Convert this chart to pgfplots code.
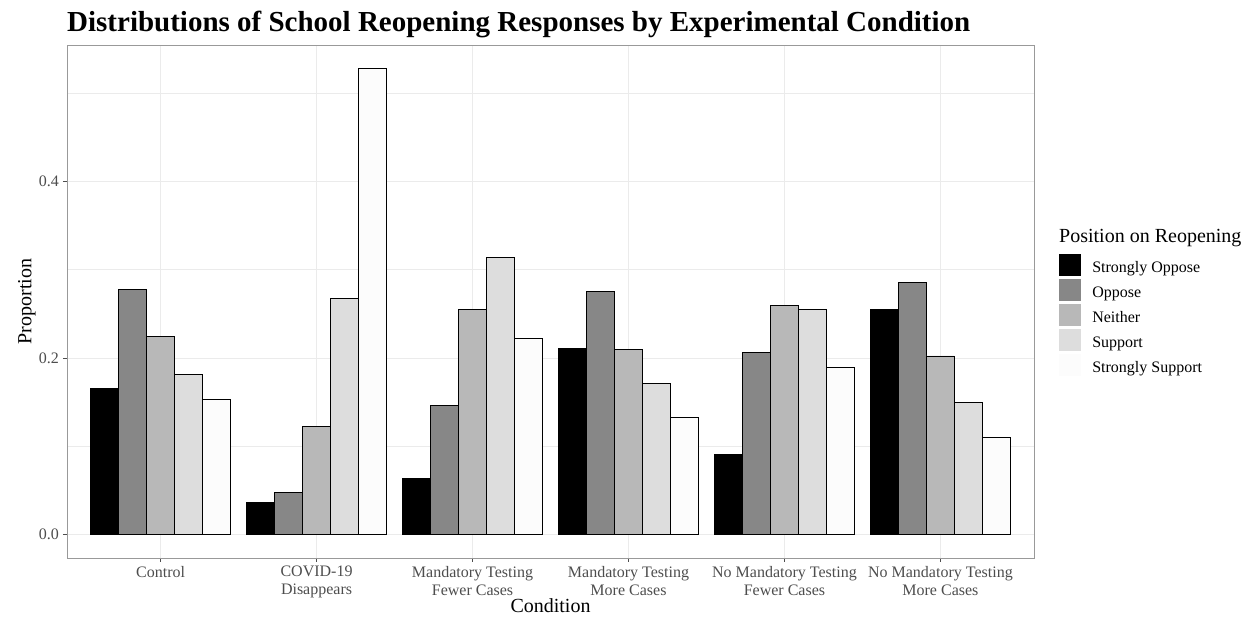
\documentclass[border=0pt]{standalone}
\usepackage{pgfplots}
\pgfplotsset{compat=1.18}
\usepackage{pgfplotstable}
\usepackage{fontspec}
\setmainfont{Liberation Serif}
\definecolor{c1}{HTML}{000000}
\definecolor{c2}{HTML}{878787}
\definecolor{c3}{HTML}{B8B8B8}
\definecolor{c4}{HTML}{DDDDDD}
\definecolor{c5}{HTML}{FCFCFC}
\definecolor{tickgray}{HTML}{4D4D4D}
\definecolor{gridgray}{HTML}{EBEBEB}
\definecolor{framegray}{HTML}{999999}
\pgfplotstableread{
x SO O N S SS
1 0.1657 0.2772 0.2245 0.1815 0.1529
2 0.0369 0.0478 0.1224 0.2674 0.5280
3 0.0640 0.1465 0.2550 0.3141 0.2218
4 0.2113 0.2750 0.2102 0.1714 0.1330
5 0.0904 0.2068 0.2600 0.2550 0.1890
6 0.2550 0.2851 0.2023 0.1495 0.1100
}\data
\begin{document}
\begin{tikzpicture}
\useasboundingbox (0,0) rectangle (1252pt,617pt);
\begin{axis}[
  at={(67pt,59pt)}, anchor=south west,
  scale only axis, width=967pt, height=513pt,
  xmin=0.4, xmax=6.6, ymin=-0.0264, ymax=0.5544,
  axis line style={framegray, line width=0.8pt},
  xtick={1,2,3,4,5,6},
  xticklabels={Control, {COVID-19\\Disappears}, {Mandatory Testing\\Fewer Cases}, {Mandatory Testing\\More Cases}, {No Mandatory Testing\\Fewer Cases}, {No Mandatory Testing\\More Cases}},
  ytick={0,0.2,0.4},
  minor ytick={0.1,0.3,0.5},
  xmajorgrids, ymajorgrids, yminorgrids,
  major grid style={gridgray, line width=0.9pt},
  minor grid style={gridgray, line width=0.5pt},
  tick pos=left, tick align=outside,
  major tick length=4pt, minor tick length=0pt,
  tick style={color=tickgray, line width=0.8pt},
  ticklabel style={font=\fontsize{16}{18}\selectfont, text=tickgray},
  xticklabel style={align=center, inner sep=0pt, yshift=-4pt},
  yticklabel style={inner sep=0pt, xshift=-4pt},
  /pgf/number format/.cd, fixed, fixed zerofill, precision=1, assume math mode=true,
  /pgfplots/.cd,
  xlabel={Condition},
  xlabel style={at={(axis description cs:0.5,-0.1053)}, anchor=base, font=\fontsize{20}{24}\selectfont, inner sep=0pt},
  ylabel={Proportion},
  ylabel style={at={(axis description cs:-0.0414,0.5)}, anchor=center, font=\fontsize{20}{24}\selectfont, inner sep=0pt},
  legend style={at={(1.0259,0.5926)}, anchor=north west, draw=none, fill=none, inner sep=0pt, row sep=3pt, column sep=11pt,
    font=\fontsize{16}{18}\selectfont, nodes={inner sep=0pt}},
  legend cell align=left,
]
\addplot[ybar, bar width=0.18, bar shift=-0.36, fill=c1, draw=black, line width=0.9pt,
  legend image code/.code={\fill[c1, draw=none] (0pt,-8.5pt) rectangle (22pt,13.5pt);}] table[x=x, y=SO] {\data};
\addlegendentry{Strongly Oppose}
\addplot[ybar, bar width=0.18, bar shift=-0.18, fill=c2, draw=black, line width=0.9pt,
  legend image code/.code={\fill[c2, draw=none] (0pt,-8.5pt) rectangle (22pt,13.5pt);}] table[x=x, y=O] {\data};
\addlegendentry{Oppose}
\addplot[ybar, bar width=0.18, bar shift=0, fill=c3, draw=black, line width=0.9pt,
  legend image code/.code={\fill[c3, draw=none] (0pt,-8.5pt) rectangle (22pt,13.5pt);}] table[x=x, y=N] {\data};
\addlegendentry{Neither}
\addplot[ybar, bar width=0.18, bar shift=0.18, fill=c4, draw=black, line width=0.9pt,
  legend image code/.code={\fill[c4, draw=none] (0pt,-8.5pt) rectangle (22pt,13.5pt);}] table[x=x, y=S] {\data};
\addlegendentry{Support}
\addplot[ybar, bar width=0.18, bar shift=0.36, fill=c5, draw=black, line width=0.9pt,
  legend image code/.code={\fill[c5, draw=none] (0pt,-8.5pt) rectangle (22pt,13.5pt);}] table[x=x, y=SS] {\data};
\addlegendentry{Strongly Support}
\end{axis}
\node[anchor=base west, inner sep=0pt, font=\bfseries\fontsize{29}{34}\selectfont] at (67pt,585pt) {Distributions of School Reopening Responses by Experimental Condition};
\node[anchor=base west, inner sep=0pt, font=\fontsize{20}{24}\selectfont] at (1059pt,374pt) {Position on Reopening};
\end{tikzpicture}
\end{document}
